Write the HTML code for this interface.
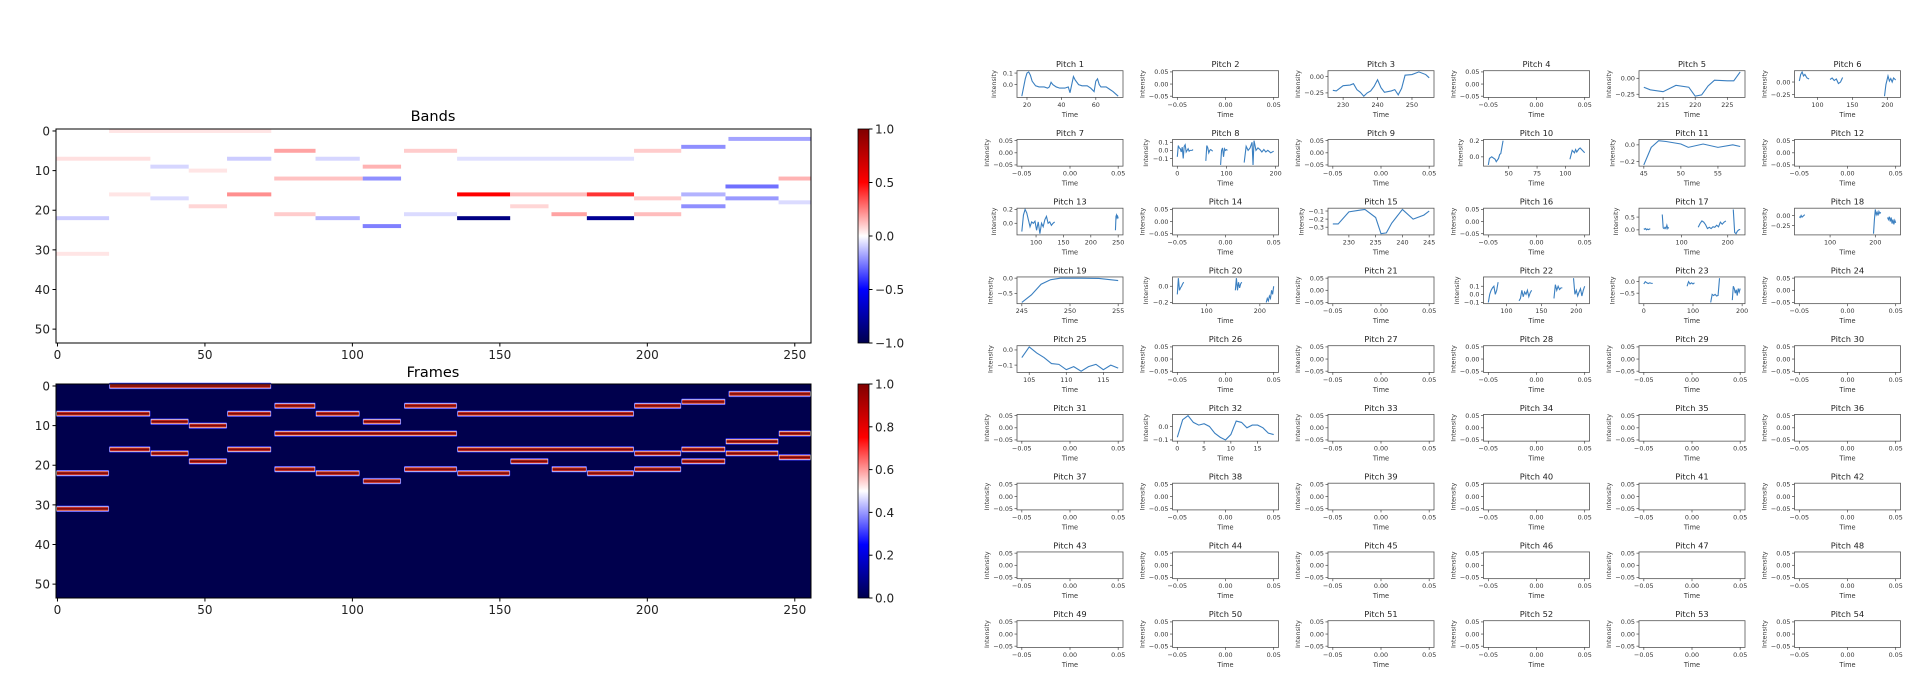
<!DOCTYPE html>
<html><head><meta charset="utf-8">
<style>
html,body{margin:0;padding:0;background:#fff;}
svg{display:block;font-family:"DejaVu Sans","Liberation Sans",sans-serif;}
</style></head>
<body>
<svg id="fig" width="1926" height="700" viewBox="0 0 1926 700" xmlns="http://www.w3.org/2000/svg">
<defs>
<linearGradient id="seis" x1="0" y1="1" x2="0" y2="0">
<stop offset="0" stop-color="#00004d"/><stop offset="0.25" stop-color="#0000ff"/>
<stop offset="0.5" stop-color="#ffffff"/><stop offset="0.75" stop-color="#ff0000"/>
<stop offset="1" stop-color="#800000"/></linearGradient>
</defs>
</svg>
<script>
// ---- Heatmap data ----
const numRows = 54;
const numFrames = 256;
// Frames note segments: [row, startFrame, endFrame]
const frameRows =   [0,7,7,7,7,9,9,10,5,5,5,4,2,12,12,14,16,16,16,16,17,17,17,18,19,19,19,21,21,21,21,22,22,22,22,24,31];
const frameStarts = [18,0,58,88,136,32,104,45,74,118,196,212,228,74,245,227,18,58,136,212,32,196,227,245,45,154,212,74,118,168,196,0,88,136,180,104,0];
const frameEnds =   [73,32,73,103,196,45,117,58,88,136,212,227,256,136,256,245,32,73,196,227,45,212,245,256,58,167,227,88,136,180,212,18,103,154,196,117,18];
// Bands segments: [row, start, end, value]
const bandRows =   [0,2,4,5,5,5,7,7,7,7,9,9,10,12,12,12,14,16,16,16,16,16,16,17,17,17,18,19,19,19,21,21,21,21,22,22,22,22,24,31];
const bandStarts = [18,228,212,74,118,196,0,58,88,136,32,104,45,74,104,245,227,18,58,136,154,180,212,32,196,227,245,45,154,212,74,118,168,196,0,88,136,180,104,0];
const bandEnds =   [73,256,227,88,136,212,32,73,103,196,45,117,58,104,117,256,245,32,73,154,180,196,227,45,212,245,256,58,167,227,88,136,180,212,18,103,154,196,117,18];
const bandValues = [0.05,-0.18,-0.22,0.18,0.1,0.1,0.06,-0.1,-0.08,-0.06,-0.08,0.15,0.05,0.12,-0.22,0.15,-0.28,0.05,0.22,0.5,0.13,0.4,-0.15,-0.07,0.1,-0.2,-0.07,0.08,0.08,-0.22,0.1,-0.07,0.18,0.13,-0.1,-0.15,-0.85,-0.8,-0.25,0.05];
const heatXTicks = [0,50,100,150,200,250];
const heatYTicks = [0,10,20,30,40,50];
const bandCbTicks = [1.0,0.5,0.0,-0.5,-1.0];
const frameCbTicks = [0.0,0.2,0.4,0.6,0.8,1.0];

// ---- Pitch line data: segments of [time, intensity] ----
const pitch1 = [[[17,-0.1],[19,0.05],[20,0.1],[21,0.11],[22,0.08],[23,0.03],[25,-0.01],[27,-0.02],[30,-0.02],[32,-0.03],[33,-0.02],[34,0.02],[35,0],[37,-0.02],[39,-0.03],[42,-0.03],[44,-0.02],[45,-0.07],[46,0],[47,0.07],[48,0.04],[50,0],[52,-0.01],[55,-0.01],[57,-0.03],[59,-0.06],[60,0.03],[61,0.05],[62,0],[63,-0.02],[66,-0.02],[68,-0.04],[70,-0.06],[73,-0.1]]];
const pitch3 = [[[227,-0.21],[228,-0.22],[230,-0.14],[232,-0.13],[233,-0.11],[234,-0.2],[235,-0.24],[236,-0.3],[237,-0.25],[238,-0.22],[239,-0.15],[240,-0.05],[241,-0.17],[242,-0.24],[244,-0.22],[245,-0.2],[246,-0.28],[247,-0.18],[248,0.02],[250,0.03],[252,0.07],[254,0.03],[255,-0.02]]];
const pitch5 = [[[212,-0.14],[213,-0.18],[215,-0.21],[217,-0.11],[219,-0.14],[220,-0.28],[221,-0.26],[222,-0.12],[223,-0.03],[225,-0.04],[226,-0.04],[227,0.1]]];
const pitch6 = [[[74,0.02],[76,0.15],[78,0.2],[80,0.12],[82,0.15],[85,0.08],[88,0.06]],[[118,0.05],[121,0.08],[124,0.03],[127,0.06],[130,-0.03],[133,0],[136,0.09]],[[196,-0.28],[198,-0.05],[201,0.12],[203,0.02],[205,0.07],[207,0],[209,0.08],[212,0.04]]];
const pitch8 = [[[0,-0.08],[2,0.06],[4,0.03],[6,0.02],[8,-0.02],[10,0.04],[12,-0.1],[14,0.05],[16,0.07],[18,-0.02],[20,0],[22,0.02],[24,-0.01],[26,0],[28,0],[30,0],[32,0.01]],[[58,-0.13],[60,0.06],[62,0.03],[64,-0.03],[66,0],[68,0.01],[70,0],[72,-0.01]],[[88,-0.18],[90,0],[92,0.03],[94,-0.08],[96,0.02],[98,0],[100,0.01],[102,0]],[[136,-0.15],[140,0.05],[144,0],[148,0.03],[152,0.1],[154,-0.18],[156,0.12],[160,0],[164,0.03],[168,0.01],[172,-0.02],[176,0.01],[180,-0.02],[184,0],[190,-0.03],[196,-0.01]]];
const pitch10 = [[[32,-0.1],[33,-0.02],[35,0],[38,-0.03],[39,-0.06],[41,-0.02],[42,0.03],[43,0.04],[45,0.2]],[[104,-0.03],[106,0.08],[108,0.05],[109,0.09],[110,0.06],[112,0.1],[113,0.11],[115,0.08],[117,0.05]]];
const pitch11 = [[[45,-0.24],[46,-0.03],[47,0.05],[48,0.04],[50,0.01],[51,-0.03],[53,0.01],[55,-0.03],[57,0],[58,-0.02]]];
const pitch13 = [[[74,-0.12],[77,0.12],[80,0.2],[83,0.15],[86,0.05],[89,-0.05],[92,0.02],[95,0],[98,0.03],[101,-0.1],[104,0.02],[107,-0.15],[110,0],[113,-0.05],[116,0.05],[119,0.1],[122,0],[125,0.02],[128,-0.03],[131,0],[134,0.02]],[[245,-0.1],[246,0.1],[247,0.12],[248,0.08],[249,0.1],[250,0.07]]];
const pitch15 = [[[227,-0.26],[228,-0.26],[230,-0.11],[232,-0.09],[233,-0.08],[235,-0.18],[236,-0.38],[237,-0.37],[238,-0.25],[240,-0.08],[242,-0.2],[244,-0.15],[245,-0.1]]];
const pitch17 = [[[18,0.05],[20,0.02],[22,0.05],[24,0],[26,0.03],[28,0.01],[30,0.03],[32,0.04]],[[58,0.6],[60,0.08],[62,0.05],[64,0.1],[66,0.05],[68,0.18],[70,0.05],[72,0.1]],[[136,0.1],[140,0.25],[144,0.35],[148,0.3],[152,0.2],[156,0.05],[160,0.1],[164,0.05],[168,0.12],[172,0.1],[176,0.18],[180,0.12],[184,0.3],[188,0.22],[192,0.3],[196,0.35]],[[212,0.8],[215,-0.1],[218,-0.15],[221,-0.05],[224,0],[227,0.02]]];
const pitch18 = [[[32,-0.03],[34,-0.05],[36,0],[38,-0.04],[40,-0.02],[42,0],[44,0.02]],[[196,-0.45],[198,-0.1],[200,0.15],[202,0.02],[204,0.08],[206,0],[208,0.1],[210,0.05],[212,0.08]],[[227,-0.05],[229,-0.1],[231,-0.03],[233,-0.15],[235,-0.05],[237,-0.2],[239,-0.1],[241,-0.22],[243,-0.12],[245,-0.18]]];
const pitch19 = [[[245,-0.8],[246,-0.55],[247,-0.2],[248,-0.05],[249,0],[251,0],[253,-0.01],[255,-0.08]]];
const pitch20 = [[[45,-0.1],[47,0.1],[49,-0.05],[51,-0.02],[53,0],[55,0.03],[57,0.05]],[[154,-0.05],[156,0.1],[158,-0.05],[160,0.05],[162,-0.02],[164,0.03],[166,0.05]],[[212,-0.2],[214,-0.15],[216,-0.18],[218,-0.12],[220,-0.15],[222,-0.05],[224,-0.1],[226,0]]];
const pitch22 = [[[74,-0.1],[76,0],[78,0.05],[80,0.08],[82,0.1],[84,0],[86,0.05],[88,0.15]],[[118,-0.08],[120,-0.05],[122,0.05],[124,-0.03],[126,0.03],[128,0],[130,0.05],[132,-0.03],[134,0.02],[136,0.05]],[[168,-0.05],[170,0.12],[172,0.05],[174,0.1],[176,0.06],[178,0.08],[180,0.08]],[[196,0.2],[198,0],[200,0.05],[202,-0.02],[204,0.03],[206,0.07],[208,-0.02],[210,0.05],[212,0.1]]];
const pitch23 = [[[0,-0.1],[3,0],[6,-0.05],[9,-0.08],[12,-0.05],[15,-0.07],[18,-0.08]],[[88,-0.2],[91,0],[94,-0.1],[97,-0.05],[100,-0.1],[103,-0.05]],[[136,-0.9],[139,-0.55],[142,-0.6],[145,-0.55],[148,-0.62],[151,-0.6],[154,0.15]],[[180,-0.8],[182,-0.2],[184,-0.3],[186,-0.5],[188,-0.35],[190,-0.6],[192,-0.3],[194,-0.45],[196,-0.3]]];
const pitch25 = [[[104,-0.05],[105,0.02],[106,-0.02],[107,-0.05],[108,-0.09],[109,-0.095],[110,-0.13],[111,-0.11],[112,-0.14],[113,-0.11],[114,-0.095],[115,-0.13],[116,-0.1],[117,-0.12]]];
const pitch32 = [[[0,-0.08],[1,0.05],[2,0.08],[3,0.03],[4,0.01],[5,0.02],[6,0],[7,-0.05],[8,-0.08],[9,-0.1],[10,-0.06],[11,0.04],[12,0.03],[13,-0.01],[14,0.01],[15,0.01],[16,-0.01],[17,-0.05],[18,-0.06]]];

const pitchSeries = {1:pitch1,3:pitch3,5:pitch5,6:pitch6,8:pitch8,10:pitch10,11:pitch11,13:pitch13,15:pitch15,17:pitch17,18:pitch18,19:pitch19,20:pitch20,22:pitch22,23:pitch23,25:pitch25,32:pitch32};
const pitchXTicks = {1:[20,40,60],3:[230,240,250],5:[215,220,225],6:[100,150,200],8:[0,100,200],10:[50,75,100],11:[45,50,55],13:[100,150,200,250],15:[230,235,240,245],17:[100,200],18:[100,200],19:[245,250,255],20:[100,200],22:[100,150,200],23:[0,100,200],25:[105,110,115],32:[0,5,10,15]};
const pitchYTicks = {1:[0.1,0.0],3:[0.00,-0.25],5:[0.00,-0.25],6:[0.00,-0.25],8:[0.1,0.0,-0.1],10:[0.2,0.0],11:[0.0,-0.2],13:[0.2,0.0],15:[-0.1,-0.2,-0.3],17:[0.5,0.0],18:[0.00,-0.25],19:[0.0,-0.5],20:[0.0,-0.2],22:[0.1,0.0,-0.1],23:[0.0,-0.5],25:[0.0,-0.1],32:[0.0,-0.1]};
const pitchYDecimals = {3:2,5:2,6:2,18:2};
const emptyTicks = [-0.05,0.00,0.05];

const NS="http://www.w3.org/2000/svg";
const svg=document.getElementById('fig');
function mk(tag,attrs,parent){const e=document.createElementNS(NS,tag);for(const k in attrs)e.setAttribute(k,attrs[k]);(parent||svg).appendChild(e);return e;}
function txt(s,attrs,parent){const e=mk('text',attrs,parent);e.textContent=s;return e;}
function fmt(v,d){const s=Math.abs(v).toFixed(d);return (v<0&&parseFloat(s)!==0?'\u2212':'')+s;}

function seismic(v){
  const t=(v+1)/2;
  const stops=[[0,[0,0,77]],[0.25,[0,0,255]],[0.5,[255,255,255]],[0.75,[255,0,0]],[1,[128,0,0]]];
  for(let i=0;i<stops.length-1;i++){const a=stops[i],b=stops[i+1];if(t<=b[0]){const f=(t-a[0])/(b[0]-a[0]);return 'rgb('+a[1].map((c,j)=>Math.round(c+(b[1][j]-c)*f)).join(',')+')';}}
  return 'rgb(128,0,0)';
}

function heatAxes(name,top,bottom,isBands){
  const L=56,R=811;
  const g=mk('g',{});
  
  
  const xs=f=>L+(f+0.5)*(R-L)/numFrames;
  const ys=r=>top+(r+0.5)*(bottom-top)/numRows;
  const rh=(bottom-top)/numRows;
  mk('rect',{x:L,y:top,width:R-L,height:bottom-top,fill:isBands?'#fff':'#00004d'},g);
  if(isBands){
    for(let i=0;i<bandRows.length;i++){
      const c=mk('rect',{x:xs(bandStarts[i]-0.5),y:ys(bandRows[i]-0.5),width:xs(bandEnds[i])-xs(bandStarts[i]),height:rh,fill:seismic(bandValues[i])},g);
      
      
    }
  } else {
    for(let i=0;i<frameRows.length;i++){
      const x0=xs(frameStarts[i]-0.5),w=xs(frameEnds[i])-xs(frameStarts[i]),yc=ys(frameRows[i]);
      const n=mk('g',{},g);
      
      
      mk('rect',{x:x0,y:yc-rh*0.8,width:w,height:rh*1.6,fill:'#3a3aff',rx:1},n);
      mk('rect',{x:x0+0.5,y:yc-rh*0.62,width:w-1,height:rh*1.24,fill:'#f2e4e4'},n);
      mk('rect',{x:x0+1,y:yc-rh*0.45,width:w-2,height:rh*0.9,fill:'#c62a22'},n);
      mk('rect',{x:x0+1,y:yc-rh*0.18,width:w-2,height:rh*0.36,fill:'#7a0a05'},n);
    }
  }
  mk('rect',{x:L,y:top,width:R-L,height:bottom-top,fill:'none',stroke:'#000','stroke-width':1},g);
  heatXTicks.forEach(t=>{const x=xs(t);mk('line',{x1:x,x2:x,y1:bottom,y2:bottom+3.5,stroke:'#000'},g);
    const l=txt(String(t),{x:x,y:bottom+16,'font-size':12,'text-anchor':'middle',fill:'#222'},g);
    
    });
  heatYTicks.forEach(t=>{const y=ys(t);mk('line',{x1:L,x2:L-3.5,y1:y,y2:y,stroke:'#000'},g);
    const l=txt(String(t),{x:L-6,y:y+4.5,'font-size':12,'text-anchor':'end',fill:'#222'},g);
    
    });
  const cb=mk('g',{});
  
  
  mk('rect',{x:858,y:top,width:11,height:bottom-top,fill:'url(#seis)',stroke:'#000','stroke-width':0.8},cb);
  const ticks=isBands?bandCbTicks:frameCbTicks;
  const lo=isBands?-1:0,hi=1;
  ticks.forEach(t=>{const y=bottom-(t-lo)/(hi-lo)*(bottom-top);
    mk('line',{x1:869,x2:872.5,y1:y,y2:y,stroke:'#000'},cb);
    txt(fmt(t,1),{x:875,y:y+4.5,'font-size':12,fill:'#222'},cb);});
}
heatAxes('bands',129,343,true);
heatAxes('frames',384,598,false);
let t1=txt('Bands',{x:433,y:121,'font-size':14.5,'text-anchor':'middle',fill:'#000'});


let t2=txt('Frames',{x:433,y:377,'font-size':14.5,'text-anchor':'middle',fill:'#000'});



for(let p=1;p<=54;p++){
  const r=Math.floor((p-1)/6),c=(p-1)%6;
  const L=1017+155.5*c,W=106,T=70.7+68.75*r,H=26.7;
  const g=mk('g',{});
  
  
  const segs=pitchSeries[p];
  let xmin,xmax,ymin,ymax,xt,yt,dec;
  if(segs){
    const all=[].concat(...segs);
    xmin=Math.min(...all.map(d=>d[0]));xmax=Math.max(...all.map(d=>d[0]));
    ymin=Math.min(...all.map(d=>d[1]));ymax=Math.max(...all.map(d=>d[1]));
    const dx=(xmax-xmin)*0.05,dy=(ymax-ymin)*0.05;xmin-=dx;xmax+=dx;ymin-=dy;ymax+=dy;
    xt=pitchXTicks[p];yt=pitchYTicks[p];dec=pitchYDecimals[p]||1;
  } else {xmin=-0.055;xmax=0.055;ymin=-0.055;ymax=0.055;xt=emptyTicks;yt=emptyTicks;dec=2;}
  const sx=v=>L+(v-xmin)/(xmax-xmin)*W, sy=v=>T+H-(v-ymin)/(ymax-ymin)*H;
  if(segs){
    segs.forEach(s=>{
      const pl=mk('polyline',{points:s.map(d=>sx(d[0]).toFixed(2)+','+sy(d[1]).toFixed(2)).join(' '),fill:'none',stroke:'#3a7fc0','stroke-width':1.1},g);
      
      
    });
  }
  mk('rect',{x:L,y:T,width:W,height:H,fill:'none',stroke:'#555','stroke-width':0.8},g);
  const xdec=segs?0:2;
  xt.forEach(t=>{const x=sx(t);mk('line',{x1:x,x2:x,y1:T+H,y2:T+H+2.5,stroke:'#444','stroke-width':0.7},g);
    txt(fmt(t,xdec),{x:x,y:T+H+9.5,'font-size':6.4,'text-anchor':'middle',fill:'#333'},g);});
  let maxLen=0;
  yt.forEach(t=>{const y=sy(t);const s=fmt(t,dec);maxLen=Math.max(maxLen,s.length);
    mk('line',{x1:L,x2:L-2.5,y1:y,y2:y,stroke:'#444','stroke-width':0.7},g);
    txt(s,{x:L-4,y:y+2.3,'font-size':6.4,'text-anchor':'end',fill:'#333'},g);});
  const tt=txt('Pitch '+p,{x:L+W/2,y:T-3.5,'font-size':8.3,'text-anchor':'middle',fill:'#222'},g);
  
  
  txt('Time',{x:L+W/2,y:T+H+19.5,'font-size':6.6,'text-anchor':'middle',fill:'#333'},g);
  const ix=L-7-maxLen*3.6-3;
  txt('Intensity',{x:ix,y:T+H/2,'font-size':6.4,'text-anchor':'middle',fill:'#333',transform:'rotate(-90 '+ix+' '+(T+H/2)+')'},g);
}
</script>
</body></html>
